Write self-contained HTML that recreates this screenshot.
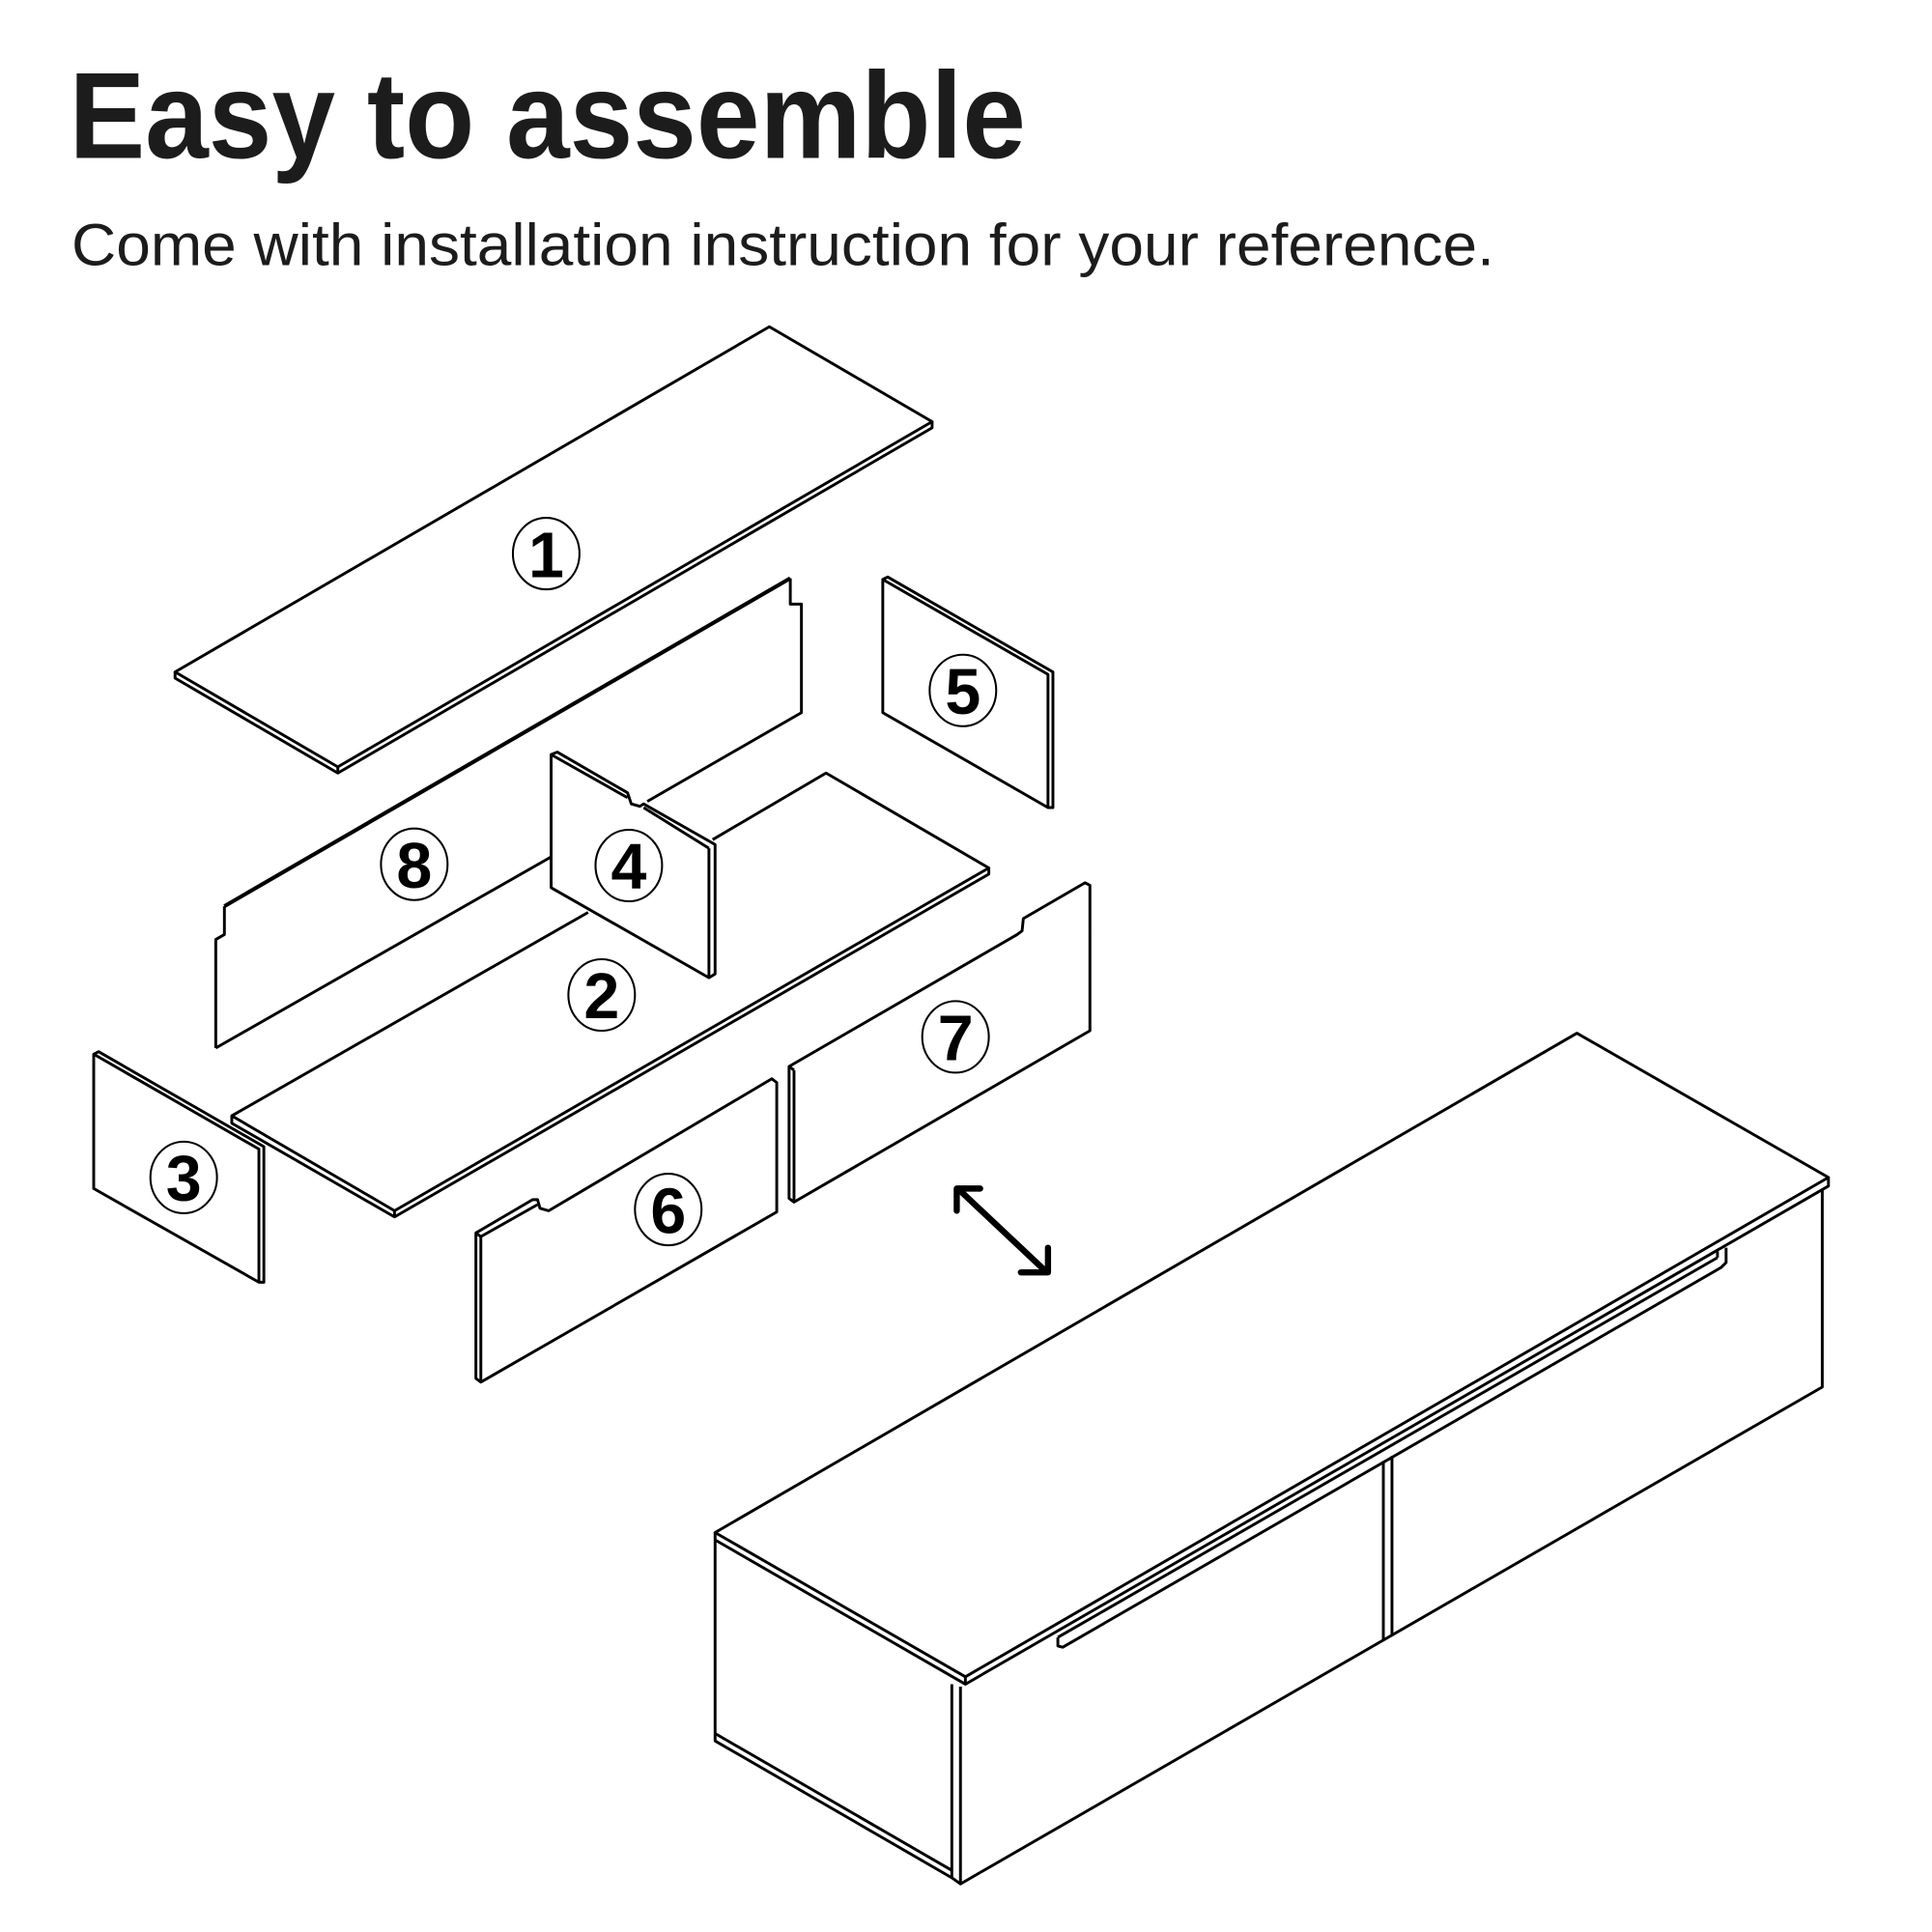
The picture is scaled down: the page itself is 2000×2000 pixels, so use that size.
<!DOCTYPE html>
<html><head><meta charset="utf-8"><style>
html,body{margin:0;padding:0;background:#fff;width:2000px;height:2000px;overflow:hidden}
svg{display:block}
</style></head><body>
<svg width="2000" height="2000" viewBox="0 0 1567 1567" xmlns="http://www.w3.org/2000/svg">
<g font-family="Liberation Sans, sans-serif" fill="#1c1c1c">
<text x="56" y="128" font-size="100" font-weight="bold" textLength="776" lengthAdjust="spacingAndGlyphs">Easy to assemble</text>
<text x="58" y="215" font-size="48" textLength="1154" lengthAdjust="spacingAndGlyphs">Come with installation instruction for your reference.</text>
</g>
<g fill="none" stroke="#000" stroke-width="2.3" stroke-linejoin="round">
<polygon points="142,545 624,265 756,342 274,622" fill="#fff"/>
<polyline points="142,545 142,550 274,627 756,347 756,342"/>
<line x1="274" y1="622" x2="274" y2="627"/>
<polyline points="175,850 175,762 182,758 182,735" />
<line x1="182" y1="735" x2="641" y2="469" stroke-width="3.2"/>
<polyline points="641,469 641,490 650,490 650,578 525,650"/>
<line x1="175" y1="850" x2="447" y2="695"/>
<polyline points="578,681 670,627 802,704 320,982 188,905 477,740"/>
<polyline points="188,905 188,911 320,987 802,709 802,704"/>
<line x1="320" y1="982" x2="320" y2="987"/>
<polygon points="447,612 452,610 509,643 512,652 519,654 522,652 580,685 580,790 575,793 447,720" fill="#fff"/>
<polyline points="447,612 509,647"/>
<line x1="575" y1="688" x2="575" y2="793"/>
<line x1="522" y1="655" x2="575" y2="688"/>
<polygon points="76,855 80,853 214,930 214,1040 210,1040 76,964" fill="#fff"/>
<polyline points="76,855 210,932 210,1040"/>
<polygon points="716,470 720,468 854,545 854,655 850,655 716,578" fill="#fff"/>
<polyline points="716,470 850,547 850,655"/>
<polygon points="386,1000 432,973 436,973 438,980 445,982 626,875 630,878 630,983 390,1121 386,1118" fill="#fff"/>
<line x1="390" y1="1003" x2="390" y2="1121"/>
<polyline points="386,1000 390,1003 436,977"/>
<polygon points="640,865 825,758 829,755 830,745 880,716 884,718 884,836 644,975 640,972" fill="#fff"/>
<line x1="644" y1="868" x2="644" y2="975"/>
<line x1="640" y1="865" x2="644" y2="868"/>
<g stroke-width="5" stroke-linecap="round">
<line x1="779" y1="966" x2="847" y2="1030"/>
<polyline points="776,982 776,964 795,964"/>
<polyline points="828,1032 850,1032 850,1012"/>
</g>
<polygon points="580,1243 1279,838 1483,955 783,1360"/>
<polyline points="580,1243 580,1249 783,1366 1483,962 1483,955"/>
<line x1="783" y1="1360" x2="783" y2="1366"/>
<polyline points="580,1249 580,1412 772,1523"/>
<line x1="580" y1="1406" x2="772" y2="1517"/>
<line x1="772" y1="1366" x2="772" y2="1523"/>
<line x1="779" y1="1368" x2="779" y2="1528"/>
<polyline points="772,1523 779,1528 1478,1125 1478,965"/>
<line x1="1122" y1="1185" x2="1122" y2="1330"/>
<line x1="1129" y1="1181" x2="1129" y2="1327"/>
<polyline points="858,1328 858,1335 862,1336 1396,1028 1400,1024 1400,1012"/>
<line x1="858" y1="1328" x2="1393" y2="1020"/>
<line x1="1393" y1="1020" x2="1393" y2="1015"/>
</g>
<g fill="none" stroke="#000" stroke-width="1.6">
<ellipse cx="443" cy="449" rx="27" ry="29"/>
<ellipse cx="336" cy="701" rx="27" ry="29"/>
<ellipse cx="510" cy="702" rx="27" ry="29"/>
<ellipse cx="781" cy="560" rx="27" ry="29"/>
<ellipse cx="488" cy="807" rx="27" ry="29"/>
<ellipse cx="775" cy="841" rx="27" ry="29"/>
<ellipse cx="149" cy="955" rx="27" ry="29"/>
<ellipse cx="542" cy="981" rx="27" ry="29"/>
</g>
<g font-family="Liberation Sans, sans-serif" font-weight="bold" font-size="52" text-anchor="middle" fill="#000">
<text x="443" y="468">1</text>
<text x="336" y="720">8</text>
<text x="510" y="721">4</text>
<text x="781" y="579">5</text>
<text x="488" y="826">2</text>
<text x="775" y="860">7</text>
<text x="149" y="974">3</text>
<text x="542" y="1000">6</text>
</g>
</svg>
</body></html>
